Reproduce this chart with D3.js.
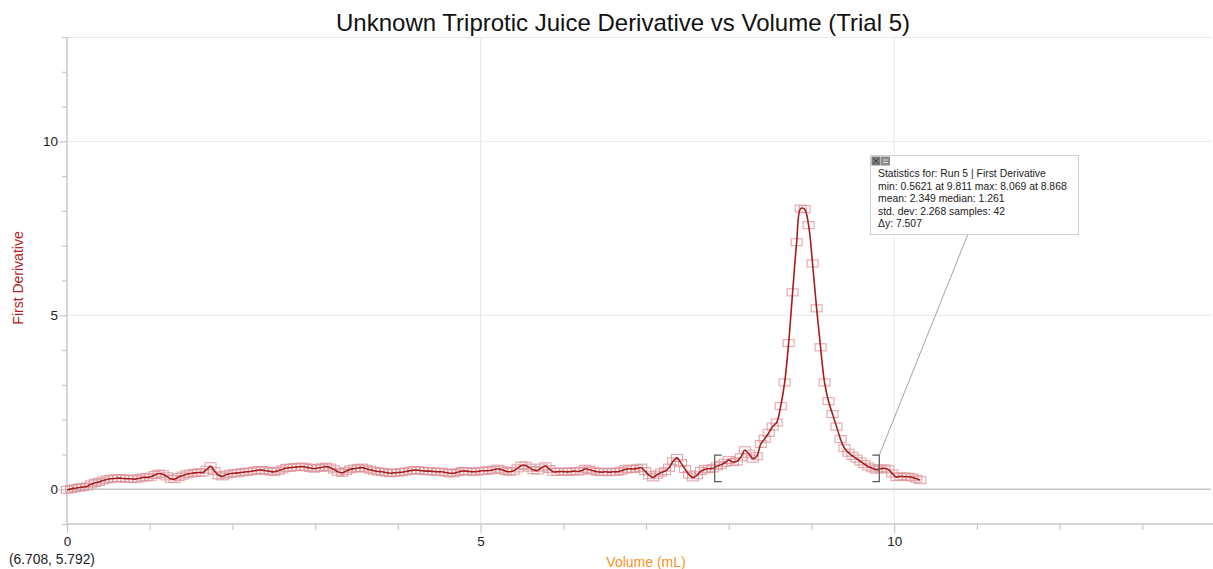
<!DOCTYPE html>
<html><head><meta charset="utf-8">
<script src="https://cdn.jsdelivr.net/npm/d3@7/dist/d3.min.js"></script>
<style>body{margin:0;background:#fff;}svg{display:block;font-family:"Liberation Sans",Arial,sans-serif;}</style>
</head><body><svg id="c" width="1213" height="569"></svg>
<script>
const title = "Unknown Triprotic Juice Derivative vs Volume (Trial 5)";
const xLabel = "Volume (mL)";
const yLabel = "First Derivative";
const cursorText = "(6.708, 5.792)";
const xTicks = [0, 5, 10];
const yTicks = [0, 5, 10];
const xDomain = [0, 13.83];
const yDomain = [-1, 13];
const statsLines = [
  "Statistics for: Run 5 | First Derivative",
  "min: 0.5621 at 9.811 max: 8.069 at 8.868",
  "mean: 2.349 median: 1.261",
  "std. dev: 2.268 samples: 42",
  "\u0394y: 7.507"
];
const bracketRange = [7.83, 9.82];
const volume = [0,0.048,0.096,0.145,0.193,0.241,0.289,0.337,0.386,0.434,0.482,0.530,0.578,0.627,0.675,0.723,0.771,0.819,0.868,0.916,
0.964,1.012,1.060,1.109,1.157,1.205,1.253,1.301,1.350,1.398,1.446,1.494,1.542,1.591,1.639,1.687,1.735,1.783,1.832,1.880,
1.928,1.976,2.024,2.073,2.121,2.169,2.217,2.265,2.314,2.362,2.410,2.458,2.506,2.555,2.603,2.651,2.699,2.747,2.796,2.844,
2.892,2.940,2.988,3.037,3.085,3.133,3.181,3.229,3.278,3.326,3.374,3.422,3.470,3.519,3.567,3.615,3.663,3.711,3.760,3.808,
3.856,3.904,3.952,4.001,4.049,4.097,4.145,4.193,4.242,4.290,4.338,4.386,4.434,4.483,4.531,4.579,4.627,4.675,4.724,4.772,
4.820,4.868,4.916,4.965,5.013,5.061,5.109,5.157,5.206,5.254,5.302,5.350,5.398,5.447,5.495,5.543,5.591,5.639,5.688,5.736,
5.784,5.832,5.880,5.929,5.977,6.025,6.073,6.121,6.170,6.218,6.266,6.314,6.362,6.411,6.459,6.507,6.555,6.603,6.652,6.700,
6.748,6.796,6.844,6.893,6.941,6.989,7.037,7.085,7.134,7.182,7.230,7.278,7.326,7.375,7.423,7.471,7.519,7.567,7.616,7.664,
7.712,7.760,7.808,7.857,7.905,7.953,8.001,8.049,8.098,8.146,8.194,8.242,8.290,8.339,8.387,8.435,8.483,8.531,8.580,8.628,
8.676,8.724,8.772,8.821,8.869,8.917,8.965,9.013,9.062,9.110,9.158,9.206,9.254,9.303,9.351,9.399,9.447,9.495,9.544,9.592,
9.640,9.688,9.736,9.785,9.833,9.881,9.929,9.977,10.026,10.074,10.122,10.170,10.218,10.267,10.315];
const derivative = [-0.02,0.01,0.03,0.05,0.06,0.08,0.14,0.18,0.21,0.25,0.28,0.30,0.31,0.32,0.31,0.30,0.30,0.29,0.31,0.34,
0.34,0.36,0.41,0.45,0.43,0.37,0.30,0.29,0.35,0.39,0.43,0.45,0.47,0.48,0.48,0.56,0.66,0.52,0.40,0.37,
0.42,0.45,0.46,0.47,0.49,0.50,0.51,0.53,0.55,0.55,0.53,0.51,0.50,0.53,0.57,0.61,0.62,0.63,0.64,0.65,
0.63,0.61,0.59,0.61,0.63,0.65,0.62,0.57,0.50,0.47,0.52,0.57,0.59,0.61,0.62,0.59,0.56,0.53,0.51,0.50,
0.48,0.46,0.47,0.48,0.49,0.51,0.53,0.55,0.55,0.53,0.52,0.52,0.51,0.50,0.50,0.48,0.46,0.46,0.49,0.52,
0.52,0.51,0.50,0.51,0.53,0.53,0.54,0.56,0.59,0.56,0.52,0.50,0.53,0.60,0.68,0.68,0.62,0.55,0.54,0.62,
0.66,0.58,0.50,0.50,0.51,0.50,0.50,0.52,0.51,0.53,0.59,0.56,0.53,0.50,0.49,0.50,0.49,0.50,0.50,0.53,
0.57,0.59,0.58,0.60,0.62,0.52,0.40,0.34,0.42,0.48,0.52,0.62,0.80,0.90,0.75,0.58,0.42,0.34,0.40,0.52,
0.57,0.59,0.60,0.66,0.70,0.76,0.84,0.78,0.80,0.92,1.12,1.02,0.88,0.95,1.30,1.45,1.62,1.80,1.92,2.39,
3.07,4.20,5.66,7.10,8.069,8.05,7.59,6.49,5.20,4.08,3.07,2.53,2.16,1.80,1.44,1.18,1.05,0.96,0.88,0.80,
0.72,0.65,0.60,0.5621,0.59,0.60,0.57,0.45,0.35,0.37,0.36,0.36,0.34,0.30,0.26];

const data = volume.map((v, i) => ({x: v, y: derivative[i]}));
const svg = d3.select("#c");
const L = 67, R = 1211, T = 37, B = 524;
const x = d3.scaleLinear().domain(xDomain).range([L, R]);
const y = d3.scaleLinear().domain(yDomain).range([B, T]);
const gridCol = "#e8e8e8", axisCol = "#c8c8c8";

// grid
svg.append("g").selectAll("line").data(xTicks.filter(d => d !== 0)).join("line")
  .attr("x1", d => x(d)).attr("x2", d => x(d)).attr("y1", T).attr("y2", B)
  .attr("stroke", gridCol).attr("stroke-width", 1);
svg.append("g").selectAll("line").data(yTicks.filter(d => d !== 0)).join("line")
  .attr("x1", L).attr("x2", R).attr("y1", d => y(d)).attr("y2", d => y(d))
  .attr("stroke", gridCol).attr("stroke-width", 1);
svg.append("line").attr("x1", L).attr("x2", R).attr("y1", T + 0.5).attr("y2", T + 0.5).attr("stroke", gridCol);
// zero line
svg.append("line").attr("x1", L).attr("x2", R).attr("y1", y(0)).attr("y2", y(0))
  .attr("stroke", "#c4c4c4").attr("stroke-width", 1.6);

// axes
const xAxis = d3.axisBottom(x).tickValues(d3.range(0, 14, 1)).tickSize(6)
  .tickFormat(d => xTicks.includes(d) ? d : "");
const gx = svg.append("g").attr("transform", `translate(0,${B})`).call(xAxis);
gx.select(".domain").attr("stroke", axisCol).attr("stroke-width", 1.5).attr("d", `M${L},0H${1213}`);
gx.selectAll(".tick line").attr("stroke", axisCol).attr("stroke-width", 1.2).attr("y2", d => xTicks.includes(d) ? 9 : 6);
gx.selectAll(".tick text").attr("y", 12).attr("font-size", "13.5px").attr("fill", "#222").attr("font-family", "Liberation Sans, Arial");

const yAxis = d3.axisLeft(y).tickValues(d3.range(-1, 14, 1)).tickSize(5)
  .tickFormat(d => yTicks.includes(d) ? d : "");
const gy = svg.append("g").attr("transform", `translate(${L},0)`).call(yAxis);
gy.select(".domain").attr("stroke", axisCol).attr("stroke-width", 1.5).attr("d", `M0,${T}V${B}`);
gy.selectAll(".tick line").attr("stroke", axisCol).attr("stroke-width", 1.2).attr("x2", d => yTicks.includes(d) ? -8 : -5);
gy.selectAll(".tick text").attr("x", -9).attr("font-size", "13.5px").attr("fill", "#222").attr("font-family", "Liberation Sans, Arial");

// markers
svg.append("g").selectAll("rect").data(data).join("rect")
  .attr("x", d => x(d.x) - 5.5).attr("y", d => y(d.y) - 3.5)
  .attr("width", 11).attr("height", 7)
  .attr("fill", "none").attr("stroke", "#dc9096").attr("stroke-opacity", 0.8).attr("stroke-width", 1.1);

// line
svg.append("path").datum(data)
  .attr("d", d3.line().x(d => x(d.x)).y(d => y(d.y)).curve(d3.curveCatmullRom.alpha(0.5)))
  .attr("fill", "none").attr("stroke", "#a81c1c").attr("stroke-width", 1.6);

// brackets
const bTop = y(0.98), bBot = y(0.22);
const bx0 = x(bracketRange[0]), bx1 = x(bracketRange[1]);
svg.append("path").attr("d", `M${bx0 + 7},${bTop}H${bx0}V${bBot}H${bx0 + 7}`)
  .attr("fill", "none").attr("stroke", "#555").attr("stroke-width", 1.2);
svg.append("path").attr("d", `M${bx1 - 7},${bTop}H${bx1}V${bBot}H${bx1 - 7}`)
  .attr("fill", "none").attr("stroke", "#555").attr("stroke-width", 1.2);

// stats box
const bx = 870, by = 155, bw = 208, bh = 79;
svg.append("line").attr("x1", 968).attr("y1", by + bh).attr("x2", bx1).attr("y2", bTop)
  .attr("stroke", "#9a9a9a").attr("stroke-width", 0.9);
svg.append("rect").attr("x", bx + 0.5).attr("y", by + 0.5).attr("width", bw).attr("height", bh)
  .attr("fill", "#fff").attr("stroke", "#cfcfcf");
svg.append("rect").attr("x", bx + 1.5).attr("y", by + 1.5).attr("width", 9).attr("height", 9).attr("fill", "#7a7a7a");
svg.append("rect").attr("x", bx + 11).attr("y", by + 1.5).attr("width", 9).attr("height", 9).attr("fill", "#8a8a8a");
svg.append("path").attr("d", `M${bx+3},${by+3}L${bx+9},${by+9}M${bx+9},${by+3}L${bx+3},${by+9}`).attr("stroke", "#444").attr("stroke-width", 1);
svg.append("path").attr("d", `M${bx+13},${by+5}H${bx+18}M${bx+13},${by+7.5}H${bx+18}`).attr("stroke", "#ddd").attr("stroke-width", 1);
svg.append("g").selectAll("text").data(statsLines).join("text")
  .attr("x", bx + 8).attr("y", (d, i) => by + 22 + i * 12.6)
  .attr("font-size", "10.4px").attr("fill", "#222").text(d => d);

// titles
svg.append("text").attr("x", 623).attr("y", 31).attr("text-anchor", "middle")
  .attr("font-size", "24px").attr("fill", "#111").text(title);
svg.append("text").attr("transform", `translate(23,278) rotate(-90)`).attr("text-anchor", "middle")
  .attr("font-size", "14px").attr("fill", "#b22222").text(yLabel);
svg.append("text").attr("x", 646).attr("y", 567).attr("text-anchor", "middle")
  .attr("font-size", "14px").attr("fill", "#f7941d").text(xLabel);
svg.append("text").attr("x", 9).attr("y", 564)
  .attr("font-size", "13.8px").attr("fill", "#222").text(cursorText);
</script></body></html>
